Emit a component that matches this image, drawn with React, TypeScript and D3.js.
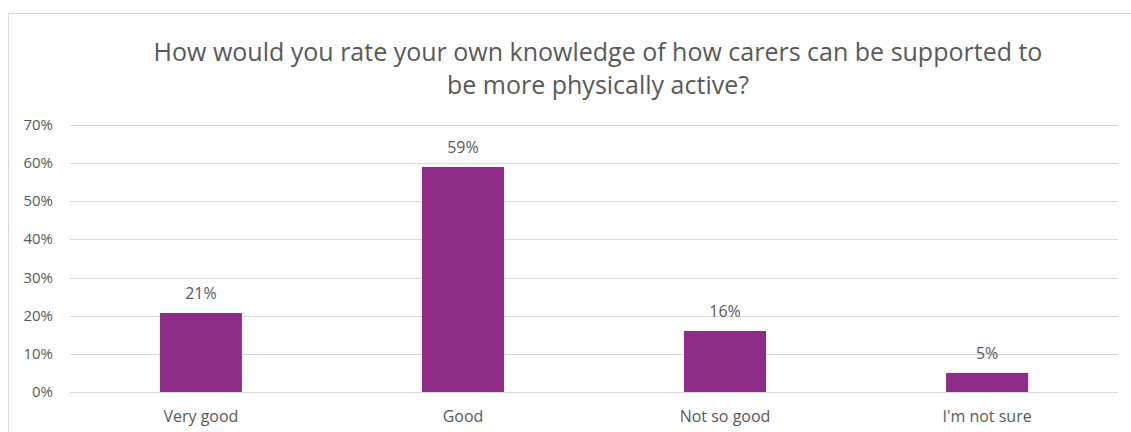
import * as d3 from "d3";

const categories = ["Very good", "Good", "Not so good", "I'm not sure"];
const values = [0.207, 0.59, 0.16, 0.05];
const valueLabels = ["21%", "59%", "16%", "5%"];
const yTicks = [0, 0.1, 0.2, 0.3, 0.4, 0.5, 0.6, 0.7];
const titleLines = [
  "How would you rate your own knowledge of how carers can be supported to",
  "be more physically active?",
];

const W = 1131;
const H = 432;
const font = "'Open Sans', 'Noto Sans', sans-serif";
const textColor = "#595959";

export default function App() {
  const left = 70;
  const right = 1118;
  const top = 125;
  const bottom = 392;

  const x = d3.scaleBand().domain(categories).range([left, right]).paddingInner(0.687).paddingOuter(0.343);
  const y = d3.scaleLinear().domain([0, 0.7]).range([bottom, top]);

  return (
    <svg width={W} height={H} style={{ position: "absolute", left: 0, top: 0 }} fontFamily={font}>
      <rect x={0} y={0} width={W} height={H} fill="#fff" />
      <rect x={8.5} y={13.5} width={W + 10} height={H} fill="none" stroke="#d9d9d9" />
      {titleLines.map((t, i) => (
        <text key={i} x={598} y={61 + i * 33} textAnchor="middle" fontSize={25} fill={textColor}>
          {t}
        </text>
      ))}
      {yTicks.map((t) => (
        <g key={t}>
          <line x1={left} x2={right} y1={Math.round(y(t)) + 0.5} y2={Math.round(y(t)) + 0.5} stroke="#d9d9d9" />
          <text x={53} y={y(t) + 5} textAnchor="end" fontSize={15} fill={textColor}>
            {d3.format(".0%")(t)}
          </text>
        </g>
      ))}
      {categories.map((c, i) => (
        <g key={c}>
          <rect x={x(c)} y={y(values[i])} width={x.bandwidth()} height={y(0) - y(values[i])} fill="#8E2C87" />
          <text x={x(c)! + x.bandwidth() / 2} y={y(values[i]) - 14} textAnchor="middle" fontSize={16} fill={textColor}>
            {valueLabels[i]}
          </text>
          <text x={x(c)! + x.bandwidth() / 2} y={422} textAnchor="middle" fontSize={16} fill={textColor}>
            {c}
          </text>
        </g>
      ))}
    </svg>
  );
}
